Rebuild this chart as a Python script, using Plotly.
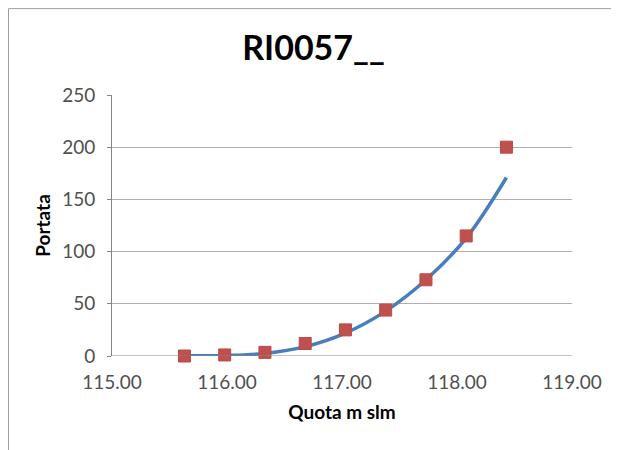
import plotly.graph_objects as go

# measured points (quota, portata)
quota = [115.63, 115.98, 116.33, 116.68, 117.03, 117.38, 117.73, 118.08, 118.43]
portata = [0, 1, 3.5, 12, 25, 44, 73, 115, 200]

# trend line
trend_x = [115.63, 115.98, 116.33, 116.68, 117.03, 117.38, 117.73, 118.08, 118.43]
trend_y = [0.2, 0.5, 2.5, 9, 22, 43, 73, 113, 171]

x_ticks = [115, 116, 117, 118, 119]
y_ticks = [0, 50, 100, 150, 200, 250]

font_name = "Lato, Open Sans, sans-serif"

fig = go.Figure()
fig.add_trace(go.Scatter(
    x=trend_x,
    y=trend_y,
    mode='lines',
    line=dict(color='#4A7EBB', width=3.5, shape='spline', smoothing=1.0),
    showlegend=False,
    hoverinfo='skip'
))
fig.add_trace(go.Scatter(
    x=quota,
    y=portata,
    mode='markers',
    marker=dict(symbol='square', size=12, color='#C0504D',
                line=dict(color='#B84A47', width=1)),
    cliponaxis=False,
    showlegend=False,
    hovertemplate='Quota: %{x:.2f}<br>Portata: %{y}<extra></extra>'
))

fig.update_layout(
    width=611,
    height=442,
    margin=dict(l=104, r=47, t=87, b=94),
    paper_bgcolor='white',
    plot_bgcolor='white',
    font=dict(family=font_name, color='#505050', size=19),
    title=dict(
        text='<b>RI0057__</b>',
        x=0.5, xref='container', xanchor='center',
        y=0.91, yref='container', yanchor='middle',
        font=dict(size=34, color='black', family=font_name)
    ),
    xaxis=dict(
        range=[115, 119],
        tickvals=x_ticks,
        tickformat='.2f',
        showgrid=False,
        zeroline=False,
        showline=False,
        ticks='',
        ticklabelstandoff=13,
        title=dict(text='<b>Quota m slm</b>', font=dict(size=19, color='black'), standoff=13),
        fixedrange=True
    ),
    yaxis=dict(
        range=[0, 250],
        tickvals=y_ticks,
        showgrid=True,
        gridcolor='#B0B0B0',
        gridwidth=1,
        zeroline=False,
        showline=True,
        linecolor='#868686',
        linewidth=1,
        ticks='outside', ticklen=4, tickcolor='#868686',
        ticklabelstandoff=8,
        title=dict(text='<b>Portata</b>', font=dict(size=19, color='black'), standoff=6),
        fixedrange=True
    ),
)

# baseline at 0 (x axis line)
fig.add_shape(type='line', xref='paper', yref='y', x0=0, x1=1, y0=0, y1=0,
              line=dict(color='#868686', width=1))
# outer chart border
fig.add_shape(type='rect', xref='paper', yref='paper',
              x0=-0.225, x1=1.2, y0=-0.5, y1=1.331,
              line=dict(color='#A0A0A0', width=1), layer='below')

fig.write_html("out.html")
